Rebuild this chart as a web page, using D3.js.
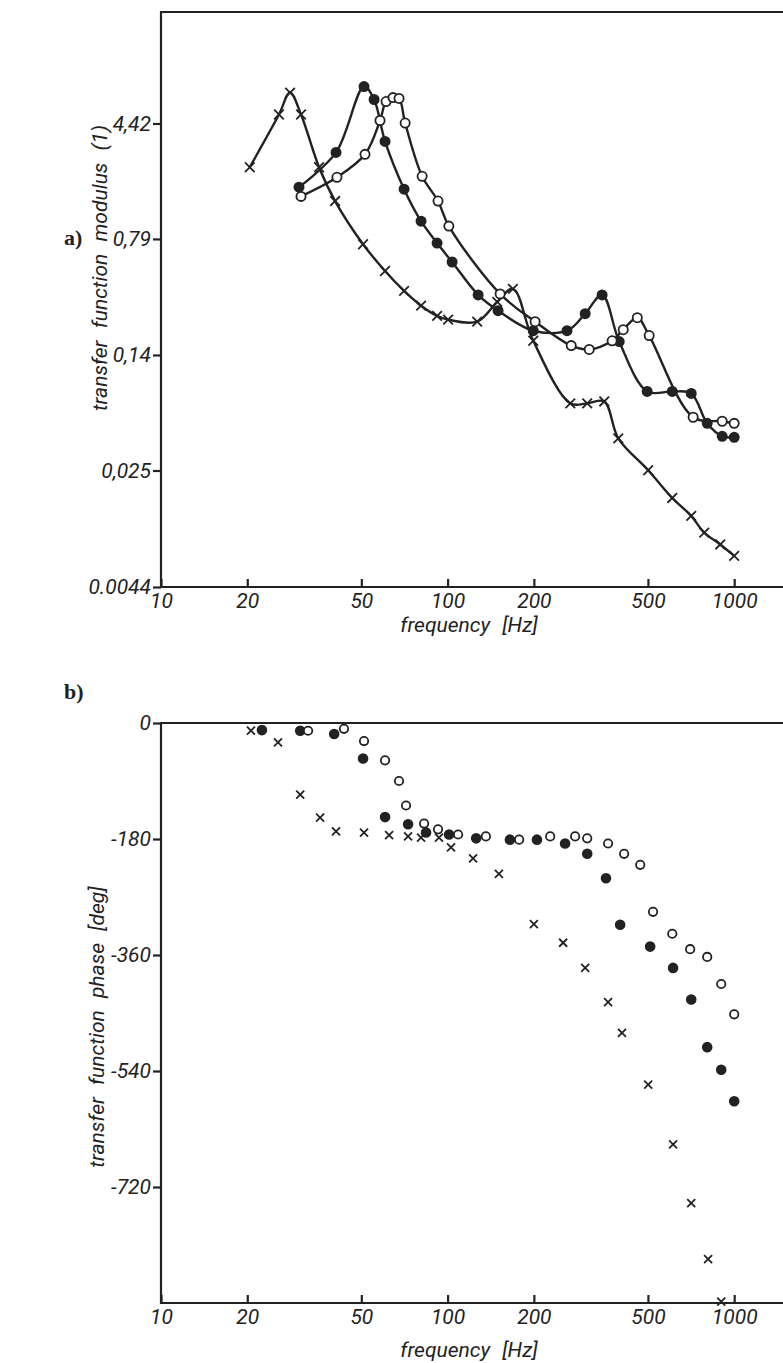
<!DOCTYPE html>
<html>
<head>
<meta charset="utf-8">
<script src="https://cdn.jsdelivr.net/npm/d3@7"></script>
<style>
  body { margin: 0; background: #fff; }
  .tick text { font-family: Roboto, "DejaVu Sans", sans-serif; font-style: italic; font-size: 21px; fill: #222; }
  .tick line { stroke: #222; stroke-width: 2.2; }
  .frame { stroke: #222; stroke-width: 2.2; fill: none; }
  .title { font-family: Roboto, "DejaVu Sans", sans-serif; font-style: italic; font-size: 21px; fill: #222; word-spacing: 7px; }
  .panel { font-family: "Liberation Serif", serif; font-weight: bold; font-size: 22px; fill: #222; }
  .curve { stroke: #222; stroke-width: 2.4; fill: none; }
</style>
</head>
<body>
<script>
// frequency ticks (Hz)
var freqTicks = [10, 20, 50, 100, 200, 500, 1000];
var modTicks = [0.0044, 0.025, 0.14, 0.79, 4.42];
var modTickLabels = ["0.0044", "0,025", "0,14", "0,79", "4,42"];
var phaseTicks = [0, -180, -360, -540, -720];

// a) modulus, [frequency, modulus]
var modCross = [[20.4,2.30],[25.8,5.05],[28.2,7.0],[30.8,5.05],[35.6,2.30],[40.5,1.39],[50.7,0.73],[60.5,0.49],
  [70.5,0.364],[80.8,0.292],[91.9,0.251],[100.4,0.237],[126.8,0.230],[149,0.309],[169,0.375],[199,0.173],
  [268,0.068],[307,0.068],[352,0.070],[394,0.0404],[501,0.0251],[608,0.0166],[708,0.0127],[786,0.0099],
  [894,0.0083],[1000,0.0070]];
var modFilled = [[30.3,1.71],[40.8,2.87],[51.1,7.66],[55.4,6.32],[60.5,3.38],[70.5,1.66],[80.8,1.03],[91.9,0.743],
  [103.7,0.560],[127.8,0.343],[150,0.271],[199,0.201],[261,0.201],[302,0.259],[346,0.343],[397,0.171],
  [497,0.0813],[608,0.0813],[708,0.0789],[805,0.0505],[908,0.0416],[1000,0.041]];
var modOpen = [[30.8,1.49],[41.1,1.98],[51.5,2.79],[58.1,4.62],[61.0,6.13],[64.5,6.50],[67.7,6.42],[71.1,4.45],
  [81.5,2.01],[92.6,1.39],[101,0.957],[152.5,0.348],[202,0.230],[270,0.161],[312,0.152],[375,0.173],
  [410,0.204],[459,0.244],[505,0.187],[719,0.0553],[908,0.0521],[1000,0.0505]];

// b) phase, [frequency, degrees]
var phCross = [[20.6,-12],[25.6,-30],[30.6,-111],[35.9,-147],[40.8,-168],[51.1,-170],[62.5,-174],[72.8,-176],
  [80.8,-178],[93.3,-178],[102.8,-193],[122.7,-210],[151,-234],[200,-312],[253,-341],[302,-380],[363,-433],
  [406,-481],[501,-561],[612,-654],[708,-745],[811,-832],[901,-898]];
var phFilled = [[22.5,-11],[30.6,-12],[40.2,-17],[50.7,-55],[60.5,-146],[72.8,-157],[84.1,-170],[101.2,-173],
  [125.8,-179],[165,-181],[205,-181],[257,-187],[307,-203],[357,-241],[400,-313],[509,-347],[612,-380],
  [708,-429],[805,-503],[901,-538],[1000,-587]];
var phOpen = [[32.6,-12],[43.5,-9],[51.1,-28],[60.5,-58],[67.7,-90],[71.6,-128],[82.8,-156],[92.6,-165],
  [108.8,-173],[136,-176],[177.7,-181],[228,-176],[278.6,-176],[307,-179],[363,-187],[413,-203],[470,-220],
  [521,-293],[608,-327],[702,-351],[805,-363],[901,-405],[1000,-452]];

var W = 783, H = 1363;
var svg = d3.select("body").append("svg")
  .attr("width", W).attr("height", H);
svg.append("rect").attr("width", W).attr("height", H).attr("fill", "#fff");

var x = d3.scaleLog().domain([10, 1480]).range([161, 783]);
var yMod = d3.scaleLog().domain([0.0044, 23.3]).range([587, 12]);
var yPh = d3.scaleLinear().domain([-900, 0]).range([1303, 723]);

function crossPath(s) {
  return "M" + (-s) + "," + (-s) + "L" + s + "," + s + "M" + (-s) + "," + s + "L" + s + "," + (-s);
}

function drawFrame(top, bottom) {
  var g = svg.append("g");
  g.append("path").attr("class", "frame")
    .attr("d", "M783," + top + "H161V" + bottom + "H783");
  var xa = d3.axisBottom(x).tickValues(freqTicks).tickFormat(d3.format("d"))
    .tickSize(-8).tickSizeOuter(0).tickPadding(6);
  g.append("g").attr("transform", "translate(0," + bottom + ")").call(xa)
    .call(function(s){ s.select(".domain").remove(); });
}

function drawMarkers(data, y, kind, s) {
  var g = svg.append("g");
  if (kind == "x") {
    g.selectAll("path").data(data).enter().append("path")
      .attr("transform", function(d){ return "translate(" + x(d[0]) + "," + y(d[1]) + ")"; })
      .attr("d", crossPath(s))
      .attr("stroke", "#222").attr("stroke-width", 1.8).attr("fill", "none");
  } else {
    g.selectAll("circle").data(data).enter().append("circle")
      .attr("cx", function(d){ return x(d[0]); })
      .attr("cy", function(d){ return y(d[1]); })
      .attr("r", s)
      .attr("fill", kind == "filled" ? "#222" : "#fff")
      .attr("stroke", "#222").attr("stroke-width", 1.8);
  }
}

// ---------- a) modulus ----------
drawFrame(12, 587);
var ya = d3.axisLeft(yMod).tickValues(modTicks)
  .tickFormat(function(d, i){ return modTickLabels[i]; })
  .tickSize(8).tickSizeOuter(0).tickPadding(2);
svg.append("g").attr("transform", "translate(161,0)").call(ya)
  .call(function(s){ s.select(".domain").remove(); });

var line = d3.line()
  .x(function(d){ return x(d[0]); })
  .y(function(d){ return yMod(d[1]); })
  .curve(d3.curveCatmullRom.alpha(0.5));

[modCross, modFilled, modOpen].forEach(function(ser){
  svg.append("path").attr("class", "curve").attr("d", line(ser));
});
drawMarkers(modCross, yMod, "x", 4.8);
drawMarkers(modFilled, yMod, "filled", 4.6);
drawMarkers(modOpen, yMod, "open", 4.6);

svg.append("text").attr("class", "title")
  .attr("transform", "translate(107,268) rotate(-90)")
  .attr("text-anchor", "middle").text("transfer function modulus (1)");
svg.append("text").attr("class", "title")
  .attr("x", 469).attr("y", 632).attr("text-anchor", "middle").text("frequency [Hz]");
svg.append("text").attr("class", "panel").attr("x", 64).attr("y", 245).text("a)");

// ---------- b) phase ----------
drawFrame(723, 1303);
var yb = d3.axisLeft(yPh).tickValues(phaseTicks).tickFormat(d3.format("d"))
  .tickSize(8).tickSizeOuter(0).tickPadding(2);
svg.append("g").attr("transform", "translate(161,0)").call(yb)
  .call(function(s){ s.select(".domain").remove(); s.selectAll("text").text(function(d){ return d < 0 ? "-" + Math.abs(d) : d; }); });

drawMarkers(phCross, yPh, "x", 4.0);
drawMarkers(phFilled, yPh, "filled", 4.4);
drawMarkers(phOpen, yPh, "open", 4.2);

svg.append("text").attr("class", "title")
  .attr("transform", "translate(104,1027) rotate(-90)")
  .attr("text-anchor", "middle").text("transfer function phase [deg]");
svg.append("text").attr("class", "title")
  .attr("x", 469).attr("y", 1357).attr("text-anchor", "middle").text("frequency [Hz]");
svg.append("text").attr("class", "panel").attr("x", 64).attr("y", 699).text("b)");
</script>
</body>
</html>
